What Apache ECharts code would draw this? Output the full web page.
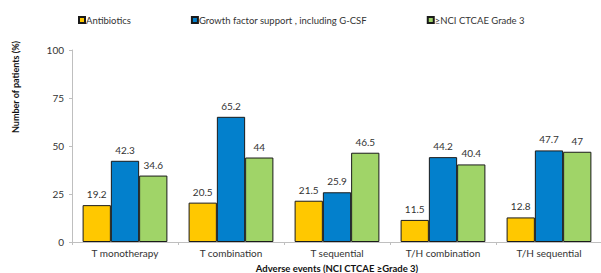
<!DOCTYPE html>
<html>
<head>
<meta charset="utf-8">
<script src="https://cdn.jsdelivr.net/npm/echarts@6/dist/echarts.min.js"></script>
<style>
  html, body { margin: 0; padding: 0; background: #fff; }
  #chart { width: 601px; height: 273px; }
</style>
</head>
<body>
<div id="chart"></div>
<script>
// categories and values
const categories = ['T monotherapy', 'T combination', 'T sequential', 'T/H combination', 'T/H sequential'];
const antibiotics = [19.2, 20.5, 21.5, 11.5, 12.8];
const growthFactor = [42.3, 65.2, 25.9, 44.2, 47.7];
const grade3 = [34.6, 44, 46.5, 40.4, 47];
const yTicks = [0, 25, 50, 75, 100];

const font = 'Lato, "Open Sans", sans-serif';
const chart = echarts.init(document.getElementById('chart'), null, { renderer: 'svg' });

function makeSeries(name, data, color) {
  return {
    name,
    type: 'bar',
    data,
    barGap: 0,
    barCategoryGap: '20%',
    itemStyle: { color, borderColor: '#1a1a1a', borderWidth: 1 },
    label: {
      show: true,
      position: 'top',
      distance: 6,
      color: '#333',
      fontSize: 10,
      fontFamily: font,
    },
  };
}

chart.setOption({
  animation: false,
  textStyle: { fontFamily: font },
  legend: {
    left: 73,
    top: 10,
    itemWidth: 6,
    itemHeight: 6,
    itemGap: 60,
    icon: 'rect',
    textStyle: { fontSize: 9.5, color: '#333', padding: [0, 0, 0, -4] },
  },
  grid: {
    left: 72,
    right: -1,
    top: 50,
    bottom: 31,
    outerBoundsMode: 'none',
    containLabel: false,
  },
  xAxis: {
    type: 'category',
    data: categories,
    name: 'Adverse events (NCI CTCAE \u2265Grade 3)',
    nameLocation: 'middle',
    nameGap: 21,
    nameTextStyle: { fontSize: 9.5, fontWeight: 'bold', color: '#111' },
    axisLine: { lineStyle: { color: '#bfbfbf' } },
    axisTick: { show: true, alignWithLabel: false, length: 3, lineStyle: { color: '#bfbfbf' } },
    axisLabel: { fontSize: 10, color: '#333', margin: 6 },
  },
  yAxis: {
    type: 'value',
    min: yTicks[0],
    max: yTicks[yTicks.length - 1],
    interval: 25,
    splitLine: { show: false },
    axisLine: { show: true, lineStyle: { color: '#bfbfbf' } },
    axisTick: { show: true, length: 3, lineStyle: { color: '#bfbfbf' } },
    axisLabel: { fontSize: 10, color: '#333', margin: 8 },
  },
  graphic: [{
    type: 'text',
    x: 15,
    y: 87,
    rotation: Math.PI / 2,
    style: {
      text: 'Number of patients (%)',
      fontSize: 9,
      fontWeight: 'bold',
      fontFamily: font,
      fill: '#111',
      align: 'center',
      verticalAlign: 'middle',
    },
  }],
  series: [
    makeSeries('Antibiotics', antibiotics, '#ffc800'),
    makeSeries('Growth factor support , including G-CSF', growthFactor, '#0380cc'),
    makeSeries('\u2265NCI CTCAE Grade 3', grade3, '#a0d468'),
  ],
});
</script>
</body>
</html>
